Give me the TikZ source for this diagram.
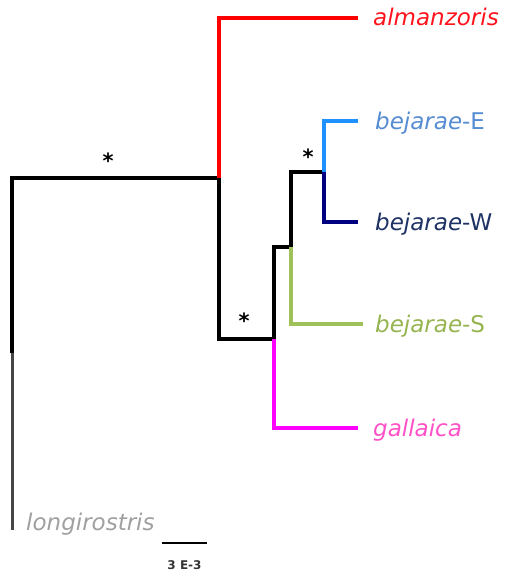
\documentclass[tikz,border=0pt]{standalone}
\usepackage{fontspec}
\setmainfont{DejaVu Sans}
\definecolor{cred}{RGB}{255,0,0}
\definecolor{cblue}{RGB}{30,144,255}
\definecolor{cnavy}{RGB}{0,0,128}
\definecolor{cgreen}{RGB}{160,192,90}
\definecolor{cmag}{RGB}{255,0,255}
\definecolor{cgray}{RGB}{70,70,70}
\definecolor{lred}{RGB}{255,20,30}
\definecolor{lblue}{RGB}{85,140,210}
\definecolor{lnavy}{RGB}{30,50,100}
\definecolor{lgreen}{RGB}{150,180,80}
\definecolor{lmag}{RGB}{255,80,200}
\definecolor{lgray}{RGB}{160,160,160}
\begin{document}
\begin{tikzpicture}[x=1pt,y=-1pt,
  br/.style={line width=3.8pt},
  lab/.style={anchor=base west,inner sep=0pt,font=\fontsize{23}{26}\selectfont},
  starlab/.style={inner sep=0pt,font=\bfseries\fontsize{21}{23}\selectfont}]
\useasboundingbox (0,0) rectangle (504,575);
% internal nodes
\coordinate (root) at (12,178);
\coordinate (rootmid) at (12,353);
\coordinate (rootend) at (12,530);
\coordinate (n1) at (219,178);
\coordinate (n1a) at (219,18);
\coordinate (n1b) at (219,339);
\coordinate (n2) at (274,339);
\coordinate (n2a) at (274,247);
\coordinate (n2b) at (274,428);
\coordinate (n3) at (291,247);
\coordinate (n3a) at (291,172);
\coordinate (n3b) at (291,324);
\coordinate (n4) at (324,172);
\coordinate (n4a) at (324,121);
\coordinate (n4b) at (324,222);
% tips
\coordinate (tA) at (358,18);
\coordinate (tE) at (358,121);
\coordinate (tW) at (358,222);
\coordinate (tS) at (363,324);
\coordinate (tG) at (358,428);
% branches
\draw[br,cgray,line width=3pt] (rootmid) -- (rootend);
\draw[br,black] (rootmid) -- (root) -- (n1);
\draw[br,cred] (n1) -- (n1a) -- (tA);
\draw[br,black] (n1) -- (n1b) -- (n2) -- (n2a) -- (n3) -- (n3a) -- (n4);
\draw[br,cblue] (n4) -- (n4a) -- (tE);
\draw[br,cnavy] (n4) -- (n4b) -- (tW);
\draw[br,cgreen] (n3) -- (n3b) -- (tS);
\draw[br,cmag] (n2) -- (n2b) -- (tG);
% labels
\node[lab,text=lred] (almanzoris) at (373,26) {\itshape almanzoris};
\node[lab,text=lblue] (bejE) at (375,129) {{\itshape bejarae}-E};
\node[lab,text=lnavy] (bejW) at (375,230) {{\itshape bejarae}-W};
\node[lab,text=lgreen] (bejS) at (375,332) {{\itshape bejarae}-S};
\node[lab,text=lmag] (gallaica) at (373,436) {\itshape gallaica};
\node[lab,text=lgray] (longi) at (26,530) {\itshape longirostris};
% support stars
\node[starlab] (s1) at (108,161) {*};
\node[starlab] (s2) at (308,157) {*};
\node[starlab] (s3) at (244,321) {*};
% scale bar
\coordinate (sb1) at (162,543);
\coordinate (sb2) at (207,543);
\draw[line width=2.2pt] (sb1) -- (sb2);
\node[anchor=base,inner sep=0pt,font=\bfseries\fontsize{12}{14}\selectfont,text=black!80] (sbl) at (184.5,569) {3 E-3};
\end{tikzpicture}
\end{document}
